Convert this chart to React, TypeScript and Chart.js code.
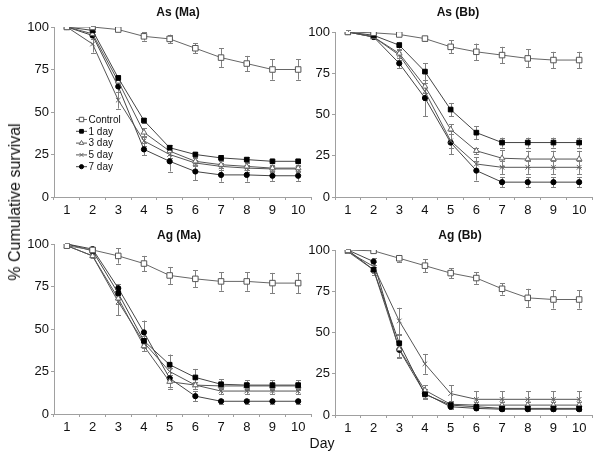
import React, { useEffect, useRef } from 'react';
import { Chart, registerables } from 'chart.js';
import { drawPoint } from 'chart.js/helpers';

Chart.register(...registerables);

const days = ['1', '2', '3', '4', '5', '6', '7', '8', '9', '10'];
const seriesNames = ['Control', '1 day', '3 day', '5 day', '7 day'];
const yTickValues = [0, 25, 50, 75, 100];

// As (Ma)
const asMaControl = [100, 100, 98.5, 94.5, 93, 87.5, 82, 78.5, 75, 75];
const asMaControlErr = [0, 0.5, 1, 2.5, 2.5, 3, 5.5, 4.5, 6, 6];
const asMa1 = [100, 98, 70, 45, 29, 25, 23, 22, 21, 21];
const asMa1Err = [0, 1, 1.5, 1.5, 1.5, 1.5, 1.5, 1.5, 1, 1];
const asMa3 = [100, 96, 68, 38, 27, 21, 19, 18, 17, 17];
const asMa3Err = [0, 1.5, 2, 2.5, 2, 2, 2, 2, 2, 2];
const asMa5 = [100, 90, 57, 33, 25, 20, 18, 17, 16.5, 16.5];
const asMa5Err = [0, 5, 5, 3, 2, 2, 2, 2, 2, 2];
const asMa7 = [100, 95, 65, 28, 21, 15, 13, 13, 12.5, 12.5];
const asMa7Err = [0, 2, 3, 3.5, 6, 5, 4, 4, 3, 3];

// As (Bb)
const asBbControl = [100, 99.5, 98.5, 96, 91, 88, 86, 84, 83, 83];
const asBbControlErr = [0, 0.5, 1, 1.5, 4, 5, 5, 5.5, 5, 5];
const asBb1 = [100, 98, 92, 76, 53, 39, 33, 33, 33, 33];
const asBb1Err = [1, 1, 2, 5, 4, 4, 3, 3, 3, 3];
const asBb3 = [100, 97, 87, 67, 41, 28, 23.5, 23, 23, 23];
const asBb3Err = [1, 1.5, 3, 4, 3, 2, 5, 5, 5, 5];
const asBb5 = [100, 97, 86, 64, 34, 20, 18, 18, 18, 18];
const asBb5Err = [1, 1.5, 3, 5, 4, 4, 4, 4, 4, 4];
const asBb7 = [100, 97, 81, 60, 33, 16, 9, 9, 9, 9];
const asBb7Err = [1, 1.5, 3, 11, 7, 6, 3, 3, 3, 3];

// Ag (Ma)
const agMaControl = [99, 96.5, 93, 88.5, 81.5, 79.5, 78, 78, 77, 77];
const agMaControlErr = [0.5, 1, 4.5, 4.5, 5, 5, 5.5, 5.5, 6, 6];
const agMa1 = [100, 96, 71, 43, 29, 21.5, 17.5, 17, 17, 17];
const agMa1Err = [0.5, 1, 2, 3, 6, 5, 3, 3, 3, 3];
const agMa3 = [99, 93, 68, 40, 19, 17, 16.5, 16.5, 16.5, 16.5];
const agMa3Err = [0.5, 1, 3, 3, 3, 2, 2, 2, 2, 2];
const agMa5 = [99, 93, 66, 42, 25, 17, 13.5, 13.5, 13.5, 13.5];
const agMa5Err = [0.5, 1, 8, 3, 3, 2, 2, 2, 2, 2];
const agMa7 = [100, 97, 74, 48, 21, 10.5, 7.5, 7.5, 7.5, 7.5];
const agMa7Err = [0.5, 1.5, 2.5, 7, 6, 3, 1.5, 1.5, 1.5, 1.5];

// Ag (Bb)
const agBbControl = [100, 99.5, 95, 90.5, 86, 83, 76.5, 71, 70, 70];
const agBbControlErr = [0.5, 0.5, 2, 4, 3, 3.5, 3.5, 5.5, 5.5, 5.5];
const agBb1 = [100, 88, 43.5, 12.5, 6, 5, 4, 4, 4, 4];
const agBb1Err = [0.5, 2, 5, 2, 1.5, 1.5, 1.5, 1.5, 1.5, 1.5];
const agBb3 = [99, 88, 40, 15, 6.5, 6, 6, 6, 6, 6];
const agBb3Err = [0.5, 3, 5, 3, 2, 2, 2, 2, 2, 2];
const agBb5 = [99, 90, 57, 31, 13, 9.5, 9.5, 9.5, 9.5, 9.5];
const agBb5Err = [0.5, 3, 8, 6, 5, 5, 5, 5, 5, 5];
const agBb7 = [100, 93, 39.5, 13, 5, 4, 3.5, 3.5, 3.5, 3.5];
const agBb7Err = [0.5, 2, 5, 3, 1.5, 1, 1, 1, 1, 1];

const panelTitles = ['As (Ma)', 'As (Bb)', 'Ag (Ma)', 'Ag (Bb)'];
const panelValues = [
  [asMaControl, asMa1, asMa3, asMa5, asMa7],
  [asBbControl, asBb1, asBb3, asBb5, asBb7],
  [agMaControl, agMa1, agMa3, agMa5, agMa7],
  [agBbControl, agBb1, agBb3, agBb5, agBb7],
];
const panelErrors = [
  [asMaControlErr, asMa1Err, asMa3Err, asMa5Err, asMa7Err],
  [asBbControlErr, asBb1Err, asBb3Err, asBb5Err, asBb7Err],
  [agMaControlErr, agMa1Err, agMa3Err, agMa5Err, agMa7Err],
  [agBbControlErr, agBb1Err, agBb3Err, agBb5Err, agBb7Err],
];

// layout (style only)
const W = 600;
const H = 454;
const areas = [
  { left: 54, right: 311, top: 27, bottom: 197, titleX: 178, titleY: 12 },
  { left: 335, right: 592, top: 32, bottom: 197, titleX: 458, titleY: 12 },
  { left: 54, right: 311, top: 244, bottom: 414, titleX: 179, titleY: 235 },
  { left: 335, right: 592, top: 250, bottom: 415, titleX: 460, titleY: 235 },
];
const Y_AXIS_W = 40;
const X_AXIS_H = 24;
const FONT = 'Liberation Sans, Arial, sans-serif';

const seriesStyles = [
  { pointStyle: 'rect', radius: 3.9, bg: '#ffffff', border: '#555555', line: '#666666' },
  { pointStyle: 'rect', radius: 3.3, bg: '#000000', border: '#000000', line: '#444444' },
  { pointStyle: 'triangle', radius: 3.3, bg: '#ffffff', border: '#666666', line: '#555555' },
  { pointStyle: 'crossRot', radius: 3.3, bg: '#666666', border: '#666666', line: '#555555' },
  { pointStyle: 'circle', radius: 2.6, bg: '#000000', border: '#000000', line: '#444444' },
];

const errorBarPlugin = {
  id: 'errorBars',
  beforeDatasetsDraw(chart: any) {
    const ctx = chart.ctx;
    const yScale = chart.scales.y;
    ctx.save();
    ctx.strokeStyle = '#808080';
    ctx.lineWidth = 1;
    chart.data.datasets.forEach((ds: any, i: number) => {
      const meta = chart.getDatasetMeta(i);
      const errs: number[] = ds.errors || [];
      meta.data.forEach((pt: any, j: number) => {
        const e = errs[j];
        if (!e) return;
        const v = ds.data[j];
        const x = Math.round(pt.x) + 0.5;
        const yTop = yScale.getPixelForValue(v + e);
        const yBot = yScale.getPixelForValue(v - e);
        ctx.beginPath();
        ctx.moveTo(x, yTop);
        ctx.lineTo(x, yBot);
        ctx.moveTo(x - 2.5, Math.round(yTop) + 0.5);
        ctx.lineTo(x + 2.5, Math.round(yTop) + 0.5);
        ctx.moveTo(x - 2.5, Math.round(yBot) + 0.5);
        ctx.lineTo(x + 2.5, Math.round(yBot) + 0.5);
        ctx.stroke();
      });
    });
    ctx.restore();
  },
};

const legendPlugin = {
  id: 'customLegend',
  afterDatasetsDraw(chart: any) {
    if (!chart.options.plugins.customLegend || !chart.options.plugins.customLegend.show) return;
    const ctx = chart.ctx;
    ctx.save();
    ctx.font = '10px ' + FONT;
    ctx.textBaseline = 'middle';
    ctx.textAlign = 'left';
    seriesNames.forEach((name, i) => {
      const y = 119.5 + i * 11.8;
      const st = seriesStyles[i];
      ctx.strokeStyle = st.line;
      ctx.lineWidth = 1;
      ctx.beginPath();
      ctx.moveTo(76, y);
      ctx.lineTo(87, y);
      ctx.stroke();
      ctx.fillStyle = st.bg;
      ctx.strokeStyle = st.border;
      drawPoint(ctx, { pointStyle: st.pointStyle, radius: st.radius * 0.8, rotation: 0, borderWidth: 1 } as any, 81.5, y);
      ctx.fillStyle = '#111111';
      ctx.fillText(name, 88.5, y + 0.5);
    });
    ctx.restore();
  },
};

function buildConfig(p: number): any {
  const a = areas[p];
  const datasets = seriesNames.map((name, i) => {
    const st = seriesStyles[i];
    return {
      label: name,
      data: panelValues[p][i],
      errors: panelErrors[p][i],
      borderColor: st.line,
      borderWidth: 1,
      backgroundColor: st.bg,
      pointStyle: st.pointStyle,
      pointRadius: st.radius,
      pointBackgroundColor: st.bg,
      pointBorderColor: st.border,
      pointBorderWidth: 1,
      tension: 0,
      fill: false,
    };
  });
  return {
    type: 'line',
    data: { labels: days, datasets },
    plugins: [errorBarPlugin, legendPlugin],
    options: {
      responsive: false,
      animation: false,
      events: [],
      layout: {
        padding: {
          left: a.left - Y_AXIS_W,
          right: W - a.right,
          top: a.top,
          bottom: H - a.bottom - X_AXIS_H,
        },
      },
      plugins: {
        legend: { display: false },
        tooltip: { enabled: false },
        title: { display: false },
        customLegend: { show: p === 0 },
      },
      scales: {
        x: {
          type: 'category',
          offset: true,
          afterFit: (s: any) => {
            s.height = X_AXIS_H;
          },
          grid: {
            display: true,
            offset: true,
            drawOnChartArea: false,
            drawTicks: true,
            tickLength: 3,
            color: '#a0a0a0',
          },
          border: { display: true, color: '#a0a0a0', width: 1 },
          ticks: {
            color: '#111111',
            font: { family: FONT, size: 13 },
            padding: 3,
            maxRotation: 0,
            autoSkip: false,
          },
        },
        y: {
          type: 'linear',
          min: 0,
          max: 100,
          afterFit: (s: any) => {
            s.width = Y_AXIS_W;
          },
          afterBuildTicks: (s: any) => {
            s.ticks = yTickValues.map((v) => ({ value: v }));
          },
          grid: {
            display: true,
            drawOnChartArea: false,
            drawTicks: true,
            tickLength: 3,
            color: '#a0a0a0',
          },
          border: { display: true, color: '#a0a0a0', width: 1 },
          ticks: {
            color: '#111111',
            font: { family: FONT, size: 13 },
            padding: 2,
          },
        },
      },
    },
  };
}

function Panel({ index }: { index: number }) {
  const ref = useRef<HTMLCanvasElement | null>(null);
  useEffect(() => {
    if (!ref.current) return;
    const chart = new Chart(ref.current, buildConfig(index));
    return () => chart.destroy();
  }, [index]);
  return (
    <canvas
      ref={ref}
      width={W}
      height={H}
      style={{ position: 'absolute', left: 0, top: 0, width: W, height: H }}
    />
  );
}

export default function App() {
  return (
    <div
      style={{
        position: 'fixed',
        left: 0,
        top: 0,
        width: W,
        height: H,
        background: '#ffffff',
        fontFamily: FONT,
        overflow: 'hidden',
      }}
    >
      {[0, 1, 2, 3].map((i) => (
        <Panel key={i} index={i} />
      ))}
      {panelTitles.map((t, i) => (
        <div
          key={t}
          style={{
            position: 'absolute',
            left: areas[i].titleX,
            top: areas[i].titleY,
            transform: 'translate(-50%, -50%)',
            fontWeight: 'bold',
            fontSize: 12,
            color: '#111',
            whiteSpace: 'nowrap',
          }}
        >
          {t}
        </div>
      ))}
      <div
        style={{
          position: 'absolute',
          left: 15,
          top: 202,
          transform: 'translate(-50%, -50%) rotate(-90deg)',
          fontSize: 16,
          color: '#111',
          whiteSpace: 'nowrap',
        }}
      >
        % Cumulative survival
      </div>
      <div
        style={{
          position: 'absolute',
          left: 322,
          top: 443,
          transform: 'translate(-50%, -50%)',
          fontSize: 14,
          color: '#111',
          whiteSpace: 'nowrap',
        }}
      >
        Day
      </div>
    </div>
  );
}
